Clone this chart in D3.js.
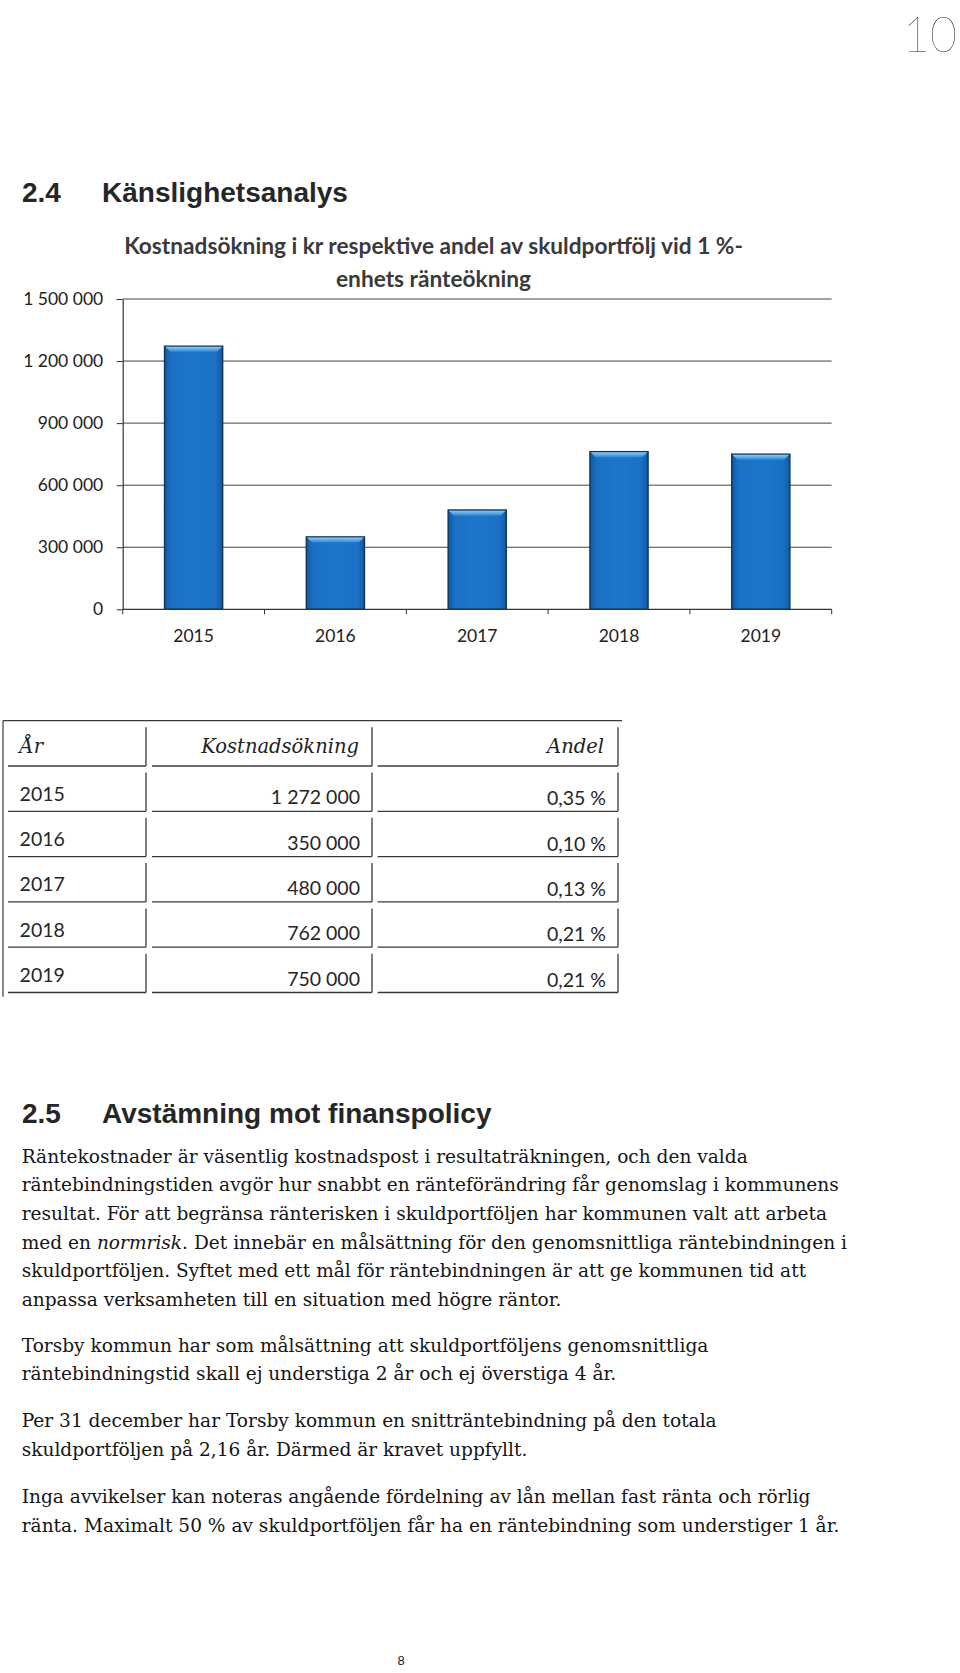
<!DOCTYPE html>
<html><head><meta charset="utf-8">
<script src="https://cdn.jsdelivr.net/npm/d3@7"></script>
<style>
html,body{margin:0;padding:0;background:#fff;}
svg{display:block;}
</style></head>
<body>
<svg id="page" width="960" height="1673"></svg>
<script>
// ---------- data ----------
const years = ["2015", "2016", "2017", "2018", "2019"];
const kostnad = [1272000, 350000, 480000, 762000, 750000];
const andel = [0.35, 0.10, 0.13, 0.21, 0.21];
const yTicks = [0, 300000, 600000, 900000, 1200000, 1500000];
const chartTitle = ["Kostnadsökning i kr respektive andel av skuldportfölj vid 1 %-", "enhets ränteökning"];
const tableHeader = ["År", "Kostnadsökning", "Andel"];
const heading1 = ["2.4", "Känslighetsanalys"];
const heading2 = ["2.5", "Avstämning mot finanspolicy"];
const paragraphs = [
  ["Räntekostnader är väsentlig kostnadspost i resultaträkningen, och den valda",
   "räntebindningstiden avgör hur snabbt en ränteförändring får genomslag i kommunens",
   "resultat. För att begränsa ränterisken i skuldportföljen har kommunen valt att arbeta",
   "med en *normrisk*. Det innebär en målsättning för den genomsnittliga räntebindningen i",
   "skuldportföljen. Syftet med ett mål för räntebindningen är att ge kommunen tid att",
   "anpassa verksamheten till en situation med högre räntor."],
  ["Torsby kommun har som målsättning att skuldportföljens genomsnittliga",
   "räntebindningstid skall ej understiga 2 år och ej överstiga 4 år."],
  ["Per 31 december har Torsby kommun en snitträntebindning på den totala",
   "skuldportföljen på 2,16 år.  Därmed är kravet uppfyllt."],
  ["Inga avvikelser kan noteras angående fördelning av lån mellan fast ränta och rörlig",
   "ränta. Maximalt 50 % av skuldportföljen får ha en räntebindning som understiger 1 år."]
];
const handNote = "10";
const pageNumber = "8";

// ---------- helpers ----------
const svg = d3.select("#page");
const loc = d3.formatLocale({decimal: ",", thousands: " ", grouping: [3], currency: ["", " kr"]});
const fmtInt = loc.format(",d");
const fmtPct = d => d.toFixed(2).replace(".", ",") + " %";
function fitSize(sel, target) {
  const w = sel.node().getComputedTextLength();
  const fs = parseFloat(sel.attr("font-size"));
  return fs * target / w;
}

// ---------- handwritten page mark ----------
svg.append("text").attr("x", 903).attr("y", 52)
  .attr("font-family", "Lato, 'Open Sans', sans-serif").attr("font-weight", 100)
  .attr("font-size", 50).attr("fill", "#222")
  .attr("textLength", 54).attr("lengthAdjust", "spacingAndGlyphs")
  .text(handNote);

// ---------- headings ----------
function heading(arr, baseline) {
  const g = svg.append("g").attr("font-family", "'Liberation Sans', Arial, sans-serif")
    .attr("font-weight", "bold").attr("font-size", 28).attr("fill", "#262626");
  g.append("text").attr("x", 22).attr("y", baseline).text(arr[0]);
  g.append("text").attr("x", 102).attr("y", baseline).text(arr[1]);
}
heading(heading1, 201.7);
heading(heading2, 1123.3);

// ---------- chart ----------
const plot = {left: 122.7, right: 831.7, top: 299, bottom: 609.3};
const x = d3.scaleBand().domain(years).range([plot.left, plot.right])
  .paddingInner(0.59).paddingOuter(0.295);
const y = d3.scaleLinear().domain([0, 1500000]).range([plot.bottom, plot.top]);

const defs = svg.append("defs");
const bg = defs.append("linearGradient").attr("id", "barGrad").attr("x1", 0).attr("x2", 1).attr("y1", 0).attr("y2", 0);
bg.append("stop").attr("offset", "0%").attr("stop-color", "#125aa3");
bg.append("stop").attr("offset", "12%").attr("stop-color", "#1a70c4");
bg.append("stop").attr("offset", "50%").attr("stop-color", "#1c77cc");
bg.append("stop").attr("offset", "88%").attr("stop-color", "#1a70c4");
bg.append("stop").attr("offset", "100%").attr("stop-color", "#125aa3");
const bv = defs.append("linearGradient").attr("id", "bevelGrad").attr("x1", 0).attr("x2", 0).attr("y1", 0).attr("y2", 1);
bv.append("stop").attr("offset", "0%").attr("stop-color", "#8ccaf2");
bv.append("stop").attr("offset", "100%").attr("stop-color", "#2a86d6");

const chart = svg.append("g");
// gridlines
chart.selectAll("line.grid").data(yTicks.filter(d => d > 0)).join("line")
  .attr("class", "grid")
  .attr("x1", plot.left).attr("x2", plot.right)
  .attr("y1", d => y(d)).attr("y2", d => y(d))
  .attr("stroke", "#444").attr("stroke-width", 1);

// bars
const bw = x.bandwidth();
const bars = chart.selectAll("g.bar").data(years.map((yr, i) => ({yr, v: kostnad[i]}))).join("g").attr("class", "bar");
bars.append("rect")
  .attr("x", d => x(d.yr)).attr("y", d => y(d.v))
  .attr("width", bw).attr("height", d => plot.bottom - y(d.v))
  .attr("fill", "url(#barGrad)").attr("stroke", "#0c335a").attr("stroke-width", 1.4);
bars.append("polygon")
  .attr("points", d => {
    const x0 = x(d.yr) + 0.7, x1 = x(d.yr) + bw - 0.7, t = y(d.v) + 0.7, b = 5;
    return [[x0, t], [x1, t], [x1 - b, t + b], [x0 + b, t + b]].map(p => p.join(",")).join(" ");
  })
  .attr("fill", "url(#bevelGrad)");

// y axis
const yAxis = chart.append("g").attr("transform", `translate(${plot.left},0)`)
  .call(d3.axisLeft(y).tickValues(yTicks).tickFormat(fmtInt).tickSize(6).tickSizeOuter(0).tickPadding(13.5));
yAxis.select(".domain").attr("stroke", "#333").attr("stroke-width", 1.2);
yAxis.selectAll(".tick line").attr("stroke", "#333");
yAxis.selectAll("text").attr("font-family", "Lato, 'Open Sans', sans-serif")
  .attr("font-size", 17.5).attr("fill", "#222");
yAxis.attr("font-family", null);

// x axis
chart.append("line").attr("x1", plot.left).attr("x2", plot.right)
  .attr("y1", plot.bottom).attr("y2", plot.bottom).attr("stroke", "#333").attr("stroke-width", 1.2);
const boundaries = d3.range(years.length + 1).map(i => plot.left + i * x.step());
chart.selectAll("line.xtick").data(boundaries).join("line").attr("class", "xtick")
  .attr("x1", d => d).attr("x2", d => d).attr("y1", plot.bottom).attr("y2", plot.bottom + 5)
  .attr("stroke", "#333");
const xAxis = chart.append("g").attr("transform", `translate(0,${plot.bottom})`)
  .call(d3.axisBottom(x).tickSize(0).tickSizeOuter(0));
xAxis.select(".domain").remove();
xAxis.selectAll("text").attr("dy", null).attr("y", 32.4)
  .attr("font-family", "Lato, 'Open Sans', sans-serif").attr("font-size", 17.5).attr("fill", "#222");

// chart title
const tg = svg.append("g").attr("font-family", "Lato, 'Open Sans', sans-serif")
  .attr("font-weight", "bold").attr("fill", "#3a3a3a").attr("text-anchor", "middle");
const t1 = tg.append("text").attr("x", 433.5).attr("y", 254.3).attr("font-size", 20).text(chartTitle[0]);
const tfs = fitSize(t1, 619);
t1.attr("font-size", tfs);
tg.append("text").attr("x", 433.5).attr("y", 286.7).attr("font-size", tfs).text(chartTitle[1]);

// ---------- table ----------
const tbl = {top: 720.7, left: 3, right: 622, headerBottom: 766, rowH: 45.3, bottomEnd: 996.7};
const cols = [[8, 146], [152, 372], [377.6, 618]];
const T = svg.append("g");
const lineCol = "#3a3a3a";
T.append("line").attr("x1", tbl.left).attr("x2", tbl.right).attr("y1", tbl.top).attr("y2", tbl.top)
  .attr("stroke", lineCol).attr("stroke-width", 1.2);
T.append("line").attr("x1", tbl.left).attr("x2", tbl.left).attr("y1", tbl.top).attr("y2", tbl.bottomEnd)
  .attr("stroke", lineCol).attr("stroke-width", 1.2);
const rowTops = [tbl.top].concat(years.map((d, i) => tbl.headerBottom + i * tbl.rowH));
const rowBottoms = [tbl.headerBottom].concat(years.map((d, i) => tbl.headerBottom + (i + 1) * tbl.rowH));
rowTops.forEach((top, r) => {
  const bot = rowBottoms[r];
  cols.forEach(c => {
    T.append("line").attr("x1", c[0]).attr("x2", c[1]).attr("y1", bot).attr("y2", bot)
      .attr("stroke", lineCol).attr("stroke-width", 1.3);
    T.append("line").attr("x1", c[1]).attr("x2", c[1]).attr("y1", top + 6.5).attr("y2", bot)
      .attr("stroke", lineCol).attr("stroke-width", 1.3);
  });
});
// header text
const hg = T.append("g").attr("font-family", "'DejaVu Serif', serif").attr("font-style", "italic")
  .attr("font-size", 19.5).attr("fill", "#222");
hg.append("text").attr("x", 19.6).attr("y", 753.3).text(tableHeader[0]);
hg.append("text").attr("x", 359).attr("y", 753.3).attr("text-anchor", "end").text(tableHeader[1]);
hg.append("text").attr("x", 604).attr("y", 753.3).attr("text-anchor", "end").text(tableHeader[2]);
// rows
const rg = T.append("g").attr("font-family", "Lato, 'Open Sans', sans-serif").attr("font-size", 19.5).attr("fill", "#262626");
years.forEach((yr, i) => {
  const bot = rowBottoms[i + 1];
  rg.append("text").attr("x", 19.6).attr("y", bot - 10.5).text(yr);
  rg.append("text").attr("x", 360).attr("y", bot - 7).attr("text-anchor", "end").text(fmtInt(kostnad[i]));
  rg.append("text").attr("x", 606).attr("y", bot - 6).attr("text-anchor", "end").text(fmtPct(andel[i]));
});

// ---------- body text ----------
const body = svg.append("g").attr("font-family", "'DejaVu Serif', serif").attr("fill", "#151515");
function addLine(str, xPos, yPos, fs) {
  const t = body.append("text").attr("x", xPos).attr("y", yPos).attr("font-size", fs);
  str.split("*").forEach((seg, k) => {
    if (!seg) return;
    t.append("tspan").attr("font-style", k % 2 ? "italic" : "normal").text(seg);
  });
  return t;
}
const probe = addLine(paragraphs[0][1], 21.7, -100, 18);
const bfs = fitSize(probe, 817.6);
probe.remove();
const paraStarts = [1162.5, 1351.6, 1427.4, 1503.4];
const lh = 28.7;
paragraphs.forEach((p, pi) => {
  p.forEach((ln, li) => addLine(ln, 21.7, paraStarts[pi] + li * lh, bfs));
});

// ---------- page number ----------
svg.append("text").attr("x", 401).attr("y", 1665).attr("text-anchor", "middle")
  .attr("font-family", "'Liberation Sans', Arial, sans-serif").attr("font-size", 13).attr("fill", "#222")
  .text(pageNumber);
</script>
</body></html>
